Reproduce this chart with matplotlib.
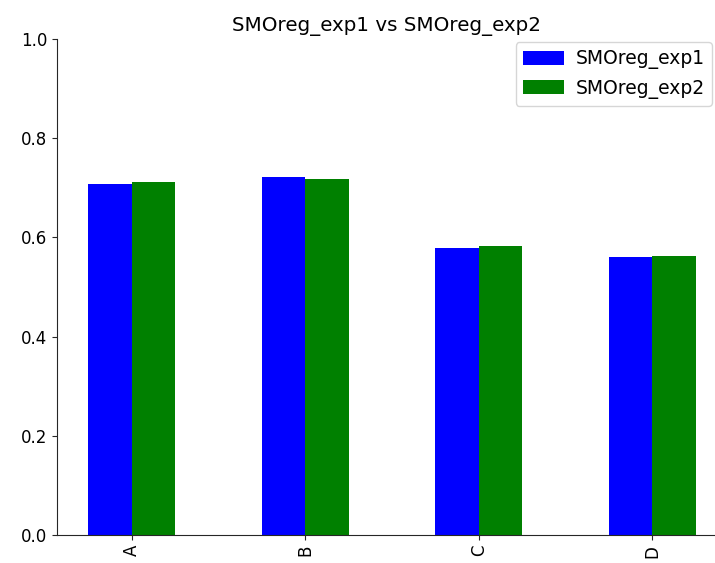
import numpy as np
import matplotlib
matplotlib.use("Agg")
import matplotlib.pyplot as plt

categories = ["A", "B", "C", "D"]
exp1 = [0.708, 0.722, 0.579, 0.560]
exp2 = [0.712, 0.718, 0.583, 0.562]

fig = plt.figure(figsize=(7.15, 5.63), dpi=100)
ax = fig.add_axes([57 / 715, 28 / 563, 658 / 715, 496 / 563])

x = np.arange(len(categories))
w = 0.25
ax.bar(x - w / 2, exp1, w, color="blue", label="SMOreg_exp1")
ax.bar(x + w / 2, exp2, w, color="green", label="SMOreg_exp2")

ax.set_xticks(x)
ax.set_xticklabels(categories, rotation=90, fontsize=12)
ax.tick_params(axis="y", labelsize=12)
ax.tick_params(colors="#262626", labelcolor="black")
ax.set_ylim(0, 1.0)
ax.set_xlim(-0.43, 3.36)
ax.spines["top"].set_visible(False)
ax.spines["right"].set_visible(False)
for s in ("left", "bottom"):
    ax.spines[s].set_color("#262626")
ax.set_title("SMOreg_exp1 vs SMOreg_exp2", fontsize=14.3)
ax.legend(loc="upper right", fontsize=13.5, handlelength=2.2, handleheight=0.8,
          handletextpad=0.6, borderaxespad=0.15)

fig.savefig("out.png", dpi=100)
